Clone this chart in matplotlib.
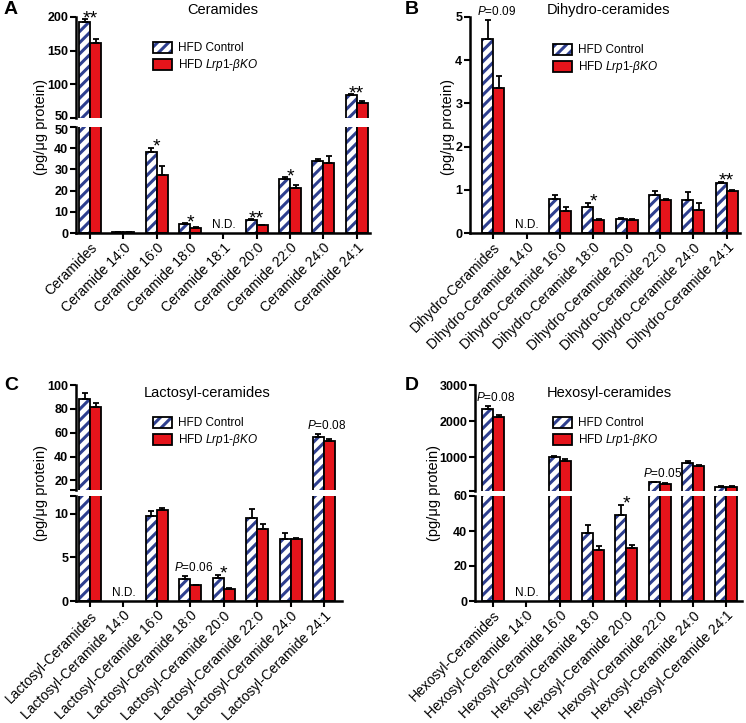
import numpy as np
import matplotlib
matplotlib.use("Agg")
import matplotlib.pyplot as plt
import matplotlib.transforms as mtransforms
from matplotlib.patches import Patch
from matplotlib.legend_handler import HandlerTuple

nan = np.nan

# --- A: Ceramides ---
cer_labels = ["Ceramides", "Ceramide 14:0", "Ceramide 16:0", "Ceramide 18:0", "Ceramide 18:1",
              "Ceramide 20:0", "Ceramide 22:0", "Ceramide 24:0", "Ceramide 24:1"]
cer_ctrl = [193, 0.4, 38, 4.2, nan, 6.1, 25.3, 34, 84]
cer_ctrl_err = [3.5, 0.1, 2.2, 0.5, nan, 0.4, 1.2, 1.0, 1.0]
cer_ko = [161, 0.3, 27.5, 2.5, nan, 3.7, 21.1, 33, 72.7]
cer_ko_err = [6, 0.1, 4.2, 0.4, nan, 0.3, 1.4, 3.4, 2.5]
cer_marks = {0: "**", 2: "*", 3: "*", 5: "**", 6: "*", 8: "**"}

# --- B: Dihydro-ceramides ---
dh_labels = ["Dihydro-Ceramides", "Dihydro-Ceramide 14:0", "Dihydro-Ceramide 16:0", "Dihydro-Ceramide 18:0",
             "Dihydro-Ceramide 20:0", "Dihydro-Ceramide 22:0", "Dihydro-Ceramide 24:0", "Dihydro-Ceramide 24:1"]
dh_ctrl = [4.5, nan, 0.78, 0.61, 0.33, 0.88, 0.77, 1.16]
dh_ctrl_err = [0.43, nan, 0.11, 0.09, 0.02, 0.1, 0.18, 0.03]
dh_ko = [3.35, nan, 0.5, 0.3, 0.29, 0.76, 0.53, 0.97]
dh_ko_err = [0.28, nan, 0.1, 0.02, 0.03, 0.03, 0.16, 0.03]
dh_marks = {0: "P=0.09", 3: "*", 7: "**"}

# --- C: Lactosyl-ceramides ---
lac_labels = ["Lactosyl-Ceramides", "Lactosyl-Ceramide 14:0", "Lactosyl-Ceramide 16:0", "Lactosyl-Ceramide 18:0",
              "Lactosyl-Ceramide 20:0", "Lactosyl-Ceramide 22:0", "Lactosyl-Ceramide 24:0", "Lactosyl-Ceramide 24:1"]
lac_ctrl = [88, nan, 9.7, 2.5, 2.6, 9.5, 7.05, 56.5]
lac_ctrl_err = [5, nan, 0.6, 0.4, 0.4, 1.0, 0.7, 2.5]
lac_ko = [81.5, nan, 10.35, 1.8, 1.4, 8.2, 7.05, 52.8]
lac_ko_err = [3, nan, 0.25, 0.05, 0.1, 0.6, 0.15, 2.3]
lac_marks = {3: "P=0.06", 4: "*", 7: "P=0.08"}

# --- D: Hexosyl-ceramides ---
hex_labels = ["Hexosyl-Ceramides", "Hexosyl-Ceramide 14:0", "Hexosyl-Ceramide 16:0", "Hexosyl-Ceramide 18:0",
              "Hexosyl-Ceramide 20:0", "Hexosyl-Ceramide 22:0", "Hexosyl-Ceramide 24:0", "Hexosyl-Ceramide 24:1"]
hex_ctrl = [2330, nan, 990, 39, 49, 300, 850, 175]
hex_ctrl_err = [90, nan, 40, 4.5, 6, 15, 30, 10]
hex_ko = [2100, nan, 900, 29, 30.2, 260, 755, 175]
hex_ko_err = [60, nan, 40, 2.4, 1.8, 10, 35, 10]
hex_marks = {0: "P=0.08", 4: "*", 5: "P=0.05"}

W, H = 746, 723
NAVY = "#2e3f8f"
RED = "#e5141b"
BW = 0.33

plt.rcParams["font.family"] = ["Liberation Sans", "DejaVu Sans"]
plt.rcParams["mathtext.fontset"] = "custom"
plt.rcParams["mathtext.rm"] = "Liberation Sans"
plt.rcParams["mathtext.it"] = "Liberation Sans:italic"
plt.rcParams["mathtext.bf"] = "Liberation Sans:bold"
plt.rcParams["hatch.linewidth"] = 2.2


def rect(x0, y0, x1, y1):
    return [x0 / W, 1 - y1 / H, (x1 - x0) / W, (y1 - y0) / H]


def ptext(s):
    if s.startswith("P="):
        return r"$\it{P}$=" + s[2:]
    return s


def nudge(fig, label, dy_pt):
    label.set_transform(label.get_transform() +
                        mtransforms.ScaledTranslation(0, dy_pt / 72, fig.dpi_scale_trans))


def panel(fig, segs, x0, x1, xlim, labels, ctrl, cerr, ko, kerr, marks, legend_xy):
    n = len(labels)
    x = np.arange(n)
    ctrl, cerr, ko, kerr = map(np.asarray, (ctrl, cerr, ko, kerr))
    axes = []
    for i, (y0, y1, ylim, ticks, ticklabels) in enumerate(segs):
        last = i == len(segs) - 1
        ax = fig.add_axes(rect(x0, y0, x1, y1))
        # upper segments only get the bars that actually reach into them
        c = ctrl if last else np.where(ctrl > ylim[0], ctrl, nan)
        k = ko if last else np.where(ko > ylim[0], ko, nan)
        ax.bar(x - BW / 2, c, BW, color="white", edgecolor=NAVY, hatch="///", linewidth=0)
        ax.bar(x - BW / 2, c, BW, color="none", edgecolor="black", linewidth=1.3)
        ax.bar(x + BW / 2, k, BW, color=RED, edgecolor="black", linewidth=1.3)
        ax.errorbar(x - BW / 2, c, yerr=[np.zeros(n), cerr], fmt="none", ecolor="black",
                    elinewidth=1.3, capsize=2.5, capthick=1.3)
        ax.errorbar(x + BW / 2, k, yerr=[np.zeros(n), kerr], fmt="none", ecolor="black",
                    elinewidth=1.3, capsize=2.5, capthick=1.3)
        ax.set_xlim(*xlim)
        ax.set_ylim(*ylim)
        ax.set_yticks(ticks)
        ax.set_yticklabels(ticklabels, fontsize=9, fontweight="bold")
        for side in ["top", "right"]:
            ax.spines[side].set_visible(False)
        ax.spines["left"].set_linewidth(1.8)
        ax.spines["bottom"].set_linewidth(1.8)
        ax.tick_params(direction="out", length=4, width=1.5, pad=1.5)
        if last:
            ax.set_xticks(x)
            ax.set_xticklabels(labels, rotation=45, ha="right", rotation_mode="anchor", fontsize=10)
        else:
            ax.spines["bottom"].set_visible(False)
            ax.set_xticks([])
        axes.append(ax)

    # both sides of a break labelled: pull the two labels apart a little
    for i in range(len(segs) - 1):
        if segs[i][4][0] and segs[i + 1][4][-1]:
            nudge(fig, axes[i].get_yticklabels()[0], 1.5)
            nudge(fig, axes[i + 1].get_yticklabels()[-1], -1.5)

    # N.D. labels and significance marks
    bottom = axes[-1]
    for i in range(n):
        if np.isnan(ctrl[i]):
            bottom.annotate("N.D.", (x[i], 0), xytext=(0, 1.5), textcoords="offset points",
                            ha="center", va="bottom", fontsize=8.5)
    for i, s in marks.items():
        top = max(ctrl[i] + cerr[i], ko[i] + kerr[i])
        for ax, (y0, y1, ylim, t, tl) in zip(axes, segs):
            if ylim[0] <= top <= ylim[1]:
                if s.startswith("P="):
                    ax.annotate(ptext(s), (x[i], top), xytext=(2, 1.5), textcoords="offset points",
                                ha="center", va="bottom", fontsize=8.5, annotation_clip=False)
                else:
                    ax.annotate(s, (x[i], top), xytext=(0, -3), textcoords="offset points",
                                ha="center", va="baseline", fontsize=14, annotation_clip=False)
                break

    handles = [(Patch(facecolor="white", edgecolor=NAVY, hatch="///", linewidth=0),
                Patch(facecolor="none", edgecolor="black", linewidth=1.3)),
               Patch(facecolor=RED, edgecolor="black", linewidth=1.3)]
    fig.legend(handles, ["HFD Control", r"HFD $\it{Lrp1}$-$\it{\beta KO}$"],
               handler_map={tuple: HandlerTuple(ndivide=1)},
               loc="upper left", bbox_to_anchor=(legend_xy[0] / W, 1 - legend_xy[1] / H),
               frameon=False, fontsize=8.5, borderpad=0, borderaxespad=0,
               handlelength=1.6, handleheight=1.0, handletextpad=0.5, labelspacing=0.25)
    return axes


fig = plt.figure(figsize=(W / 100, H / 100), dpi=100)

panel(fig,
      [(17, 118, (50, 200), [50, 100, 150, 200], ["50", "100", "150", "200"]),
       (127, 233, (0, 50), [0, 10, 20, 30, 40, 50], ["0", "10", "20", "30", "40", "50"])],
      76, 370, (-0.42, 8.4), cer_labels, cer_ctrl, cer_ctrl_err, cer_ko, cer_ko_err, cer_marks, (153, 42))

panel(fig,
      [(17, 233, (0, 5), [0, 1, 2, 3, 4, 5], ["0", "1", "2", "3", "4", "5"])],
      470, 740, (-0.7, 7.4), dh_labels, dh_ctrl, dh_ctrl_err, dh_ko, dh_ko_err, dh_marks, (553, 44))

panel(fig,
      [(385, 490, (12, 100), [12, 20, 40, 60, 80, 100], ["", "20", "40", "60", "80", "100"]),
       (496, 601, (0, 12), [0, 5, 10, 12], ["0", "5", "10", ""])],
      76, 342, (-0.42, 7.54), lac_labels, lac_ctrl, lac_ctrl_err, lac_ko, lac_ko_err, lac_marks, (153, 417))

panel(fig,
      [(385, 491, (60, 3000), [60, 1000, 2000, 3000], ["", "1000", "2000", "3000"]),
       (496, 601, (0, 60), [0, 20, 40, 60], ["0", "20", "40", "60"])],
      475, 742, (-0.54, 7.47), hex_labels, hex_ctrl, hex_ctrl_err, hex_ko, hex_ko_err, hex_marks, (553, 417))

# titles, y labels, panel letters
for (tx, ty, title) in [(223, 10, "Ceramides"), (609, 10, "Dihydro-ceramides"),
                        (207, 393, "Lactosyl-ceramides"), (609, 393, "Hexosyl-ceramides")]:
    fig.text(tx / W, 1 - ty / H, title, ha="center", va="center", fontsize=10.5)

for (lx, ly) in [(41, 127), (448, 127), (41, 493), (434, 493)]:
    fig.text(lx / W, 1 - ly / H, "(pg/μg protein)", rotation=90, ha="center", va="center", fontsize=10.5)

for (px, py, letter) in [(4, 10, "A"), (405, 10, "B"), (4, 385, "C"), (405, 385, "D")]:
    fig.text(px / W, 1 - py / H, letter, ha="left", va="center", fontsize=14, fontweight="bold")

fig.savefig("out.png", dpi=100)
